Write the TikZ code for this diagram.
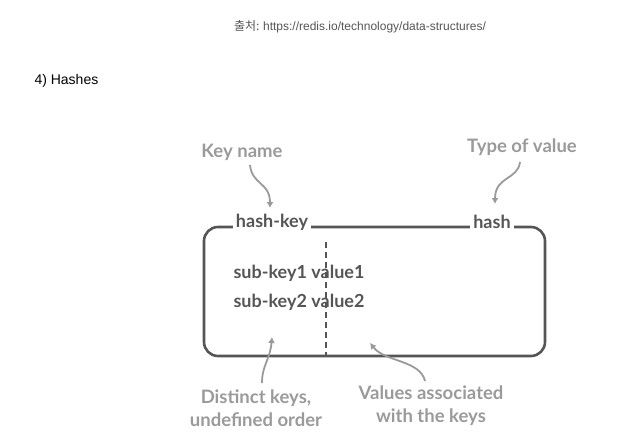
\documentclass[tikz,border=0pt]{standalone}
\usetikzlibrary{arrows.meta}
\usepackage{fontspec}
\setmainfont{Lato}[BoldFont={Lato Bold}]
\newfontfamily\kr{Noto Sans CJK KR}
\newfontfamily\lib{Liberation Sans}
\definecolor{dkc}{HTML}{555555}
\definecolor{ltc}{HTML}{9A9A9A}
\begin{document}
\begin{tikzpicture}[x=1pt,y=-1pt,
  bx/.style={draw=dkc,line width=2.6pt,rounded corners=14pt},
  dtxt/.style={text=dkc,font=\bfseries\fontsize{18}{20}\selectfont},
  lbl/.style={text=ltc,font=\bfseries\fontsize{18.5}{23}\selectfont,align=center},
  arr/.style={draw=ltc,line width=1.8pt,-{Latex[length=6pt,width=7pt]}}]
\useasboundingbox (0,0) rectangle (634,442);
\node[font=\kr\fontsize{12}{14}\selectfont,text=dkc] (src) at (360,27) {출처: {\lib https://redis.io/technology/data-structures/}};
\node[font=\lib\fontsize{14}{16}\selectfont,anchor=west] (title) at (31,81) {4) Hashes};
\draw[bx] (204,227) rectangle (545,356);
\draw[draw=dkc,line width=2.6pt,dash pattern=on 6pt off 4pt] (326,242) coordinate (dtop) -- (326,356) coordinate (dbot);
\node[dtxt,fill=white,inner xsep=3pt] (hk) at (272,222) {hash-key};
\node[dtxt,fill=white,inner xsep=3pt] (hs) at (492,222) {hash};
\node[dtxt,anchor=west] (r1) at (230,273) {sub-key1 value1};
\node[dtxt,anchor=west] (r2) at (230,302) {sub-key2 value2};
\node[lbl] (kn) at (242,152) {Key name};
\node[lbl] (tv) at (522,147) {Type of value};
\node[lbl] (dkn) at (256,408) {Distinct keys,\\undefined order};
\node[lbl] (va) at (431,406) {Values associated\\with the keys};
\coordinate (a1) at (270,208);
\coordinate (a2) at (495,204);
\coordinate (a3) at (272,337);
\coordinate (a4) at (370,343);
\draw[arr] (250,165) .. controls (252,185) and (270,182) .. (a1);
\draw[arr] (520,162) .. controls (518,180) and (495,176) .. (a2);
\draw[arr] (262,383) .. controls (262,365) and (270,360) .. (a3);
\draw[arr] (425,381) .. controls (420,360) and (385,362) .. (a4);
\end{tikzpicture}
\end{document}
